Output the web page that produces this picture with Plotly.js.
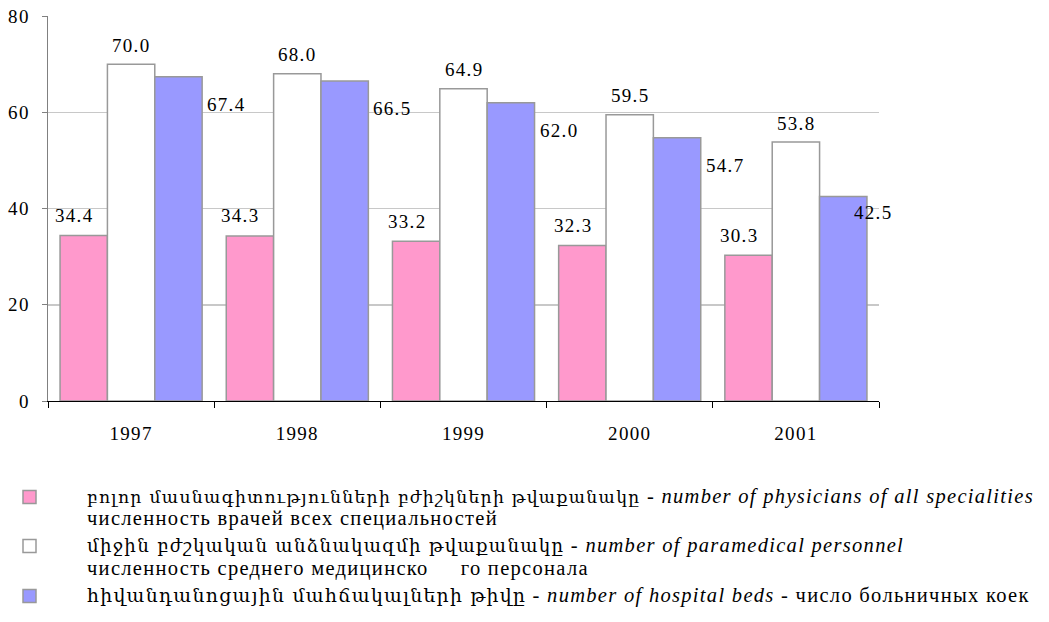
<!DOCTYPE html>
<html>
<head>
<meta charset="utf-8">
<script src="https://cdn.plot.ly/plotly-3.0.1.min.js"></script>
<style>
  html, body { margin: 0; padding: 0; background: #fff; }
  #chart { width: 1049px; height: 622px; }
  .xtick text, .ytick text, .annotation-text { letter-spacing: 1.3px; }
</style>
</head>
<body>
<div id="chart"></div>
<script>
// ---- data ----
const years = ['1997', '1998', '1999', '2000', '2001'];
const physicians = [34.4, 34.3, 33.2, 32.3, 30.3];
const paramedical = [70.0, 68.0, 64.9, 59.5, 53.8];
const hospitalBeds = [67.4, 66.5, 62.0, 54.7, 42.5];
const yTicks = [0, 20, 40, 60, 80];

const seriesArm = [
  'բոլոր մասնագիտությունների բժիշկների թվաքանակը',
  'միջին բժշկական անձնակազմի թվաքանակը',
  'հիվանդանոցային մահճակալների թիվը'
];
const seriesEng = [
  'number of physicians of all specialities',
  'number of paramedical personnel',
  'number of hospital beds'
];
const seriesRus = [
  'численность врачей всех специальностей',
  'численность среднего медицинско\u00a0\u00a0\u00a0\u00a0\u00a0го персонала',
  'число больничных коек'
];

// ---- style ----
const FONT = 'Liberation Serif, Times New Roman, DejaVu Serif, serif';
const ARM_FONT = 'DejaVu Serif';
const ARM_SIZES = [17.2, 18.2, 18.8];
const colors = ['#FF99CC', '#FFFFFF', '#9999FF'];
const series = [physicians, paramedical, hospitalBeds];

const M = { l: 48, r: 170, t: 16, b: 221 };
const W = 1049, H = 622;
const PW = W - M.l - M.r, PH = H - M.t - M.b;
const px2x = px => (px - M.l) / PW;
const py2y = py => (H - M.b - py) / PH;

const traces = series.map((vals, i) => ({
  type: 'bar',
  x: years,
  y: vals,
  name: seriesEng[i],
  marker: { color: colors[i], line: { color: '#999999', width: 1.5 } },
  showlegend: false,
  hoverinfo: 'x+y'
}));

// value labels, offset per series like the original placement
const labelShift = [
  { dx: -57, dy: 20 },
  { dx: 0, dy: 19 },
  { dx: 95, dy: -28 }
];
const annotations = [];
series.forEach((vals, i) => {
  vals.forEach((v, j) => {
    let s = labelShift[i];
    if (i === 2 && j === vals.length - 1) s = { dx: 77, dy: -16 };
    annotations.push({
      x: j, y: v, xref: 'x', yref: 'y',   // j = category index of years[j]
      text: v.toFixed(1), showarrow: false,
      xshift: s.dx, yshift: s.dy,
      xanchor: 'center', yanchor: 'middle',
      font: { family: FONT, size: 19, color: '#000' }
    });
  });
});

// custom legend (one annotation per text line, plus swatches)
const armSpan = (t, i) => '<span style="font-family:' + ARM_FONT + ';font-size:' + ARM_SIZES[i] + 'px">' + t + '</span>';
const legendLines = [
  { py: 496, text: armSpan(seriesArm[0], 0) + ' - <i>' + seriesEng[0] + '</i>' },
  { py: 518, text: seriesRus[0] },
  { py: 545, text: armSpan(seriesArm[1], 1) + ' - <i>' + seriesEng[1] + '</i>' },
  { py: 568, text: seriesRus[1] },
  { py: 595, text: armSpan(seriesArm[2], 2) + ' - <i>' + seriesEng[2] + '</i> - ' + seriesRus[2] }
];
legendLines.forEach(l => {
  annotations.push({
    xref: 'paper', yref: 'paper',
    x: px2x(85), y: py2y(l.py),
    xanchor: 'left', yanchor: 'middle',
    text: l.text, showarrow: false,
    font: { family: FONT, size: 20.5, color: '#000' }
  });
});
const swatchY = [497, 546, 596];
const shapes = swatchY.map((py, i) => ({
  type: 'rect', xref: 'paper', yref: 'paper',
  x0: px2x(23), x1: px2x(36), y0: py2y(py + 6.5), y1: py2y(py - 6.5),
  fillcolor: colors[i], line: { color: '#999999', width: 1.5 }
}));

const layout = {
  width: W, height: H,
  margin: { l: M.l, r: M.r, t: M.t, b: M.b, autoexpand: false },
  paper_bgcolor: '#fff', plot_bgcolor: '#fff',
  barmode: 'group', bargap: 0.145, bargroupgap: 0,
  font: { family: FONT, size: 19, color: '#000' },
  showlegend: false,
  xaxis: {
    type: 'category', range: [-0.5, years.length - 0.5], autorange: false,
    showline: true, linecolor: '#000', linewidth: 1,
    ticks: 'outside', tickson: 'boundaries', ticklen: 6, tickcolor: '#000',
    ticklabelstandoff: 15,
    showgrid: false, zeroline: false,
    tickfont: { family: FONT, size: 19, color: '#000' }
  },
  yaxis: {
    range: [0, 80], autorange: false, tickmode: 'array', tickvals: yTicks, ticktext: yTicks.map(String),
    showline: true, linecolor: '#808080', linewidth: 1.5,
    ticks: 'outside', ticklen: 5, tickcolor: '#808080',
    ticklabelstandoff: 8,
    showgrid: true, gridcolor: '#C8C8C8', gridwidth: 1.5,
    zeroline: false,
    tickfont: { family: FONT, size: 19, color: '#000' }
  },
  annotations: annotations,
  shapes: shapes
};

Plotly.newPlot('chart', traces, layout, { displayModeBar: false, staticPlot: true });
</script>
</body>
</html>
